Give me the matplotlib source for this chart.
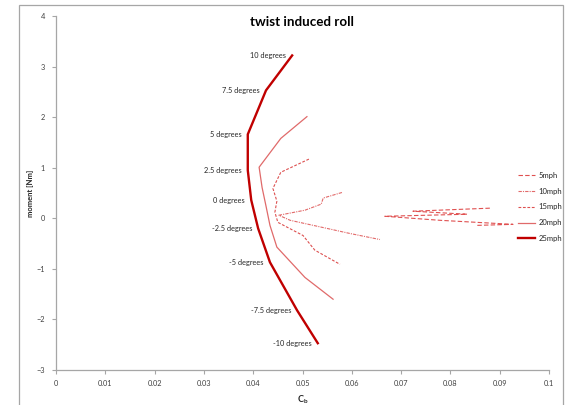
import matplotlib
matplotlib.use("Agg")
import matplotlib.pyplot as plt
from matplotlib.patches import Rectangle

plt.rcParams['font.family'] = ['Lato', 'DejaVu Sans']

# drag coefficient (x) and roll moment (y) for each wind speed, angles +10 .. -10 deg
angles = ["10 degrees", "7.5 degrees", "5 degrees", "2.5 degrees", "0 degrees",
          "-2.5 degrees", "-5 degrees", "-7.5 degrees", "-10 degrees"]

cb_25 = [0.0479, 0.0426, 0.0389, 0.0389, 0.0396, 0.0410, 0.0434, 0.0489, 0.0531]
m_25 = [3.22, 2.53, 1.66, 0.95, 0.36, -0.20, -0.87, -1.82, -2.47]

cb_20 = [0.0509, 0.0456, 0.0412, 0.0418, 0.0426, 0.0434, 0.0448, 0.0505, 0.0562]
m_20 = [2.01, 1.58, 1.01, 0.61, 0.24, -0.14, -0.57, -1.17, -1.60]

cb_15 = [0.0513, 0.0456, 0.0440, 0.0448, 0.0444, 0.0450, 0.0501, 0.0525, 0.0576]
m_15 = [1.17, 0.91, 0.59, 0.34, 0.12, -0.08, -0.34, -0.63, -0.91]

cb_10 = [0.0580, 0.0542, 0.0538, 0.0505, 0.0452, 0.0475, 0.0531, 0.0596, 0.0657]
m_10 = [0.51, 0.40, 0.28, 0.16, 0.06, -0.04, -0.16, -0.30, -0.42]

cb_5 = [0.0880, 0.0724, 0.0834, 0.0667, 0.0779, 0.0927, 0.0854]
m_5 = [0.20, 0.14, 0.08, 0.04, -0.04, -0.12, -0.14]

x_ticks = [0, 0.01, 0.02, 0.03, 0.04, 0.05, 0.06, 0.07, 0.08, 0.09, 0.1]
x_tick_labels = ["0", "0.01", "0.02", "0.03", "0.04", "0.05", "0.06", "0.07", "0.08", "0.09", "0.1"]
y_ticks = [-3, -2, -1, 0, 1, 2, 3, 4]

W, H = 572, 405
fig = plt.figure(figsize=(W / 100, H / 100), dpi=100)
fig.patch.set_facecolor("white")

# chart frame
fig.patches.append(Rectangle((19 / W, -0.01), (563 - 19) / W, 1 - 5 / H + 0.01,
                             transform=fig.transFigure, fill=False,
                             edgecolor="#A6A6A6", linewidth=0.9))

ax = fig.add_axes([56 / W, 1 - 370 / H, (549 - 56) / W, (370 - 16) / H])

ax.plot(cb_5, m_5, color="#E05050", lw=0.8, dashes=(4, 2), label="5mph")
ax.plot(cb_10, m_10, color="#E26A6A", lw=0.8, dashes=(3, 1, 1, 1), label="10mph")
ax.plot(cb_15, m_15, color="#DD5050", lw=0.8, dashes=(2.5, 1.5), label="15mph")
ax.plot(cb_20, m_20, color="#E06A6A", lw=0.9, label="20mph")
ax.plot(cb_25, m_25, color="#C00000", lw=1.7, label="25mph")

for label, x, y in zip(angles, cb_25, m_25):
    ax.annotate(label, (x, y), xytext=(-6, 0), textcoords="offset pixels",
                ha="right", va="center", fontsize=5.3, color="#262626")

ax.set_xlim(0, 0.1)
ax.set_ylim(-3, 4)
ax.set_xticks(x_ticks)
ax.set_xticklabels(x_tick_labels)
ax.set_yticks(y_ticks)

for s in ("top", "right"):
    ax.spines[s].set_visible(False)
for s in ("left", "bottom"):
    ax.spines[s].set_color("#A6A6A6")
    ax.spines[s].set_linewidth(0.9)
ax.tick_params(axis="both", colors="#A6A6A6", labelcolor="#404040",
               labelsize=5.3, length=3, width=0.8, direction="out")
ax.tick_params(axis="x", pad=4)
ax.tick_params(axis="y", pad=5)

ax.set_xlabel(r"C$_\mathregular{b}$", fontsize=6.5, fontweight="bold",
              color="#262626", labelpad=5)
ax.set_ylabel("moment [Nm]", fontsize=5.5, fontweight="bold", color="#262626",
              labelpad=2)

fig.text(302 / W, 1 - 22 / H, "twist induced roll", ha="center", va="center",
         fontsize=9.6, fontweight="bold", color="#000000")

leg = ax.legend(loc="center left", bbox_to_anchor=(515 / W, 1 - 207 / H),
                bbox_transform=fig.transFigure, frameon=False, fontsize=5.5,
                handlelength=2.2, handletextpad=0.5, labelspacing=1.15,
                borderaxespad=0)
for t in leg.get_texts():
    t.set_color("#262626")

fig.savefig("out.png", dpi=100)
